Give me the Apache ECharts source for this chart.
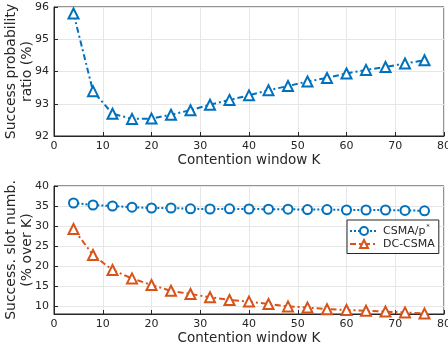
<!DOCTYPE html>
<html>
<head>
<meta charset="utf-8">
<script src="https://cdn.jsdelivr.net/npm/echarts@6/dist/echarts.min.js"></script>
<style>
  html, body { margin: 0; padding: 0; background: #fff; }
</style>
</head>
<body>
<div id="Charts" style="width: 448px;height: 351px;"></div>
<script>
// contention window K
const kValues = [4, 8, 12, 16, 20, 24, 28, 32, 36, 40, 44, 48, 52, 56, 60, 64, 68, 72, 76]
// top panel: success probability ratio (%)
const ratioValues = [95.8, 93.39, 92.69, 92.53, 92.54, 92.66, 92.8, 92.97, 93.12, 93.26, 93.42, 93.55, 93.69, 93.8, 93.94, 94.05, 94.14, 94.25, 94.35]
// bottom panel: successful slot number (% over K)
const csmaValues = [35.75, 35.25, 35.0, 34.7, 34.5, 34.5, 34.3, 34.25, 34.3, 34.25, 34.2, 34.2, 34.1, 34.1, 34.0, 34.0, 34.0, 33.9, 33.8]
const dcValues = [29.25, 22.75, 19.0, 16.9, 15.25, 13.8, 13.0, 12.2, 11.5, 11.1, 10.5, 9.9, 9.6, 9.2, 9.0, 8.8, 8.6, 8.4, 8.1]
const bottomTicks = [10, 15, 20, 25, 30, 35, 40]

const BLUE = '#0072BD'
const ORANGE = '#D95319'
const FONT = 'DejaVu Sans'

function pairs(ys) {
  return kValues.map((k, i) => [k, ys[i]])
}

function xAxisOf(gridIndex) {
  return {
    gridIndex: gridIndex,
    type: 'value',
    min: 0,
    max: 80,
    interval: 10,
    name: 'Contention window K',
    nameLocation: 'middle',
    nameGap: 17,
    nameMoveOverlap: false,
    nameTextStyle: { fontFamily: FONT, fontSize: 13.5, color: '#262626' },
    axisLine: { show: true, lineStyle: { color: '#262626', width: 1 } },
    axisTick: { show: true, inside: true, length: 4, lineStyle: { color: '#262626' } },
    axisLabel: { fontFamily: FONT, fontSize: 11, color: '#262626', margin: 5 },
    splitLine: { show: true, lineStyle: { color: '#e6e6e6', width: 1 } }
  }
}

function yAxisOf(gridIndex, name) {
  return {
    gridIndex: gridIndex,
    type: 'value',
    name: name,
    nameLocation: 'middle',
    nameGap: 19,
    nameMoveOverlap: false,
    nameTextStyle: { fontFamily: FONT, fontSize: 14, color: '#262626', lineHeight: 16 },
    axisLine: { show: true, lineStyle: { color: '#262626' } },
    axisTick: { show: true, inside: true, length: 4, lineStyle: { color: '#262626' } },
    axisLabel: { fontFamily: FONT, fontSize: 11, color: '#262626', margin: 5 },
    splitLine: { show: true, lineStyle: { color: '#e6e6e6' } }
  }
}

let topY = yAxisOf(0, 'Success probability\nratio (%)')
topY.min = 92
topY.max = 96
topY.interval = 1

let bottomY = yAxisOf(1, 'Success. slot numb.\n(% over K)')
bottomY.min = 8
bottomY.max = 40
bottomY.axisTick.customValues = bottomTicks
bottomY.axisLabel.customValues = bottomTicks

let chart = echarts.init(document.getElementById('Charts'))
let option = {
  animation: false,
  backgroundColor: '#fff',
  grid: [
    { left: 54, right: 4, top: 7, height: 129, show: true, borderColor: '#262626', borderWidth: 1, containLabel: false, outerBoundsMode: 'none' },
    { left: 54, right: 4, top: 186, height: 128, show: true, borderColor: '#262626', borderWidth: 1, containLabel: false, outerBoundsMode: 'none' }
  ],
  xAxis: [xAxisOf(0), xAxisOf(1)],
  yAxis: [topY, bottomY],
  legend: {
    orient: 'vertical',
    left: 347,
    top: 220,
    padding: [4, 4, 4, 2],
    itemGap: 2,
    itemWidth: 28,
    itemHeight: 10,
    backgroundColor: '#fff',
    borderColor: '#262626',
    borderWidth: 1,
    borderRadius: 0,
    data: ['CSMA/p*', 'DC-CSMA'],
    formatter: function (name) {
      if (name === 'CSMA/p*') return 'CSMA/p{sup|*}'
      return name
    },
    textStyle: {
      fontFamily: FONT,
      fontSize: 11,
      color: '#262626',
      rich: {
        sup: { fontSize: 7, verticalAlign: 'top', padding: [0, 0, 7, 1], fontFamily: FONT, color: '#262626' }
      }
    }
  },
  series: [
    {
      name: 'ratio',
      type: 'line',
      xAxisIndex: 0,
      yAxisIndex: 0,
      data: pairs(ratioValues),
      symbol: 'triangle',
      symbolSize: 10,
      lineStyle: { color: BLUE, width: 2, type: [6, 3, 2, 3] },
      itemStyle: { color: '#fff', borderColor: BLUE, borderWidth: 2 }
    },
    {
      name: 'CSMA/p*',
      type: 'line',
      xAxisIndex: 1,
      yAxisIndex: 1,
      data: pairs(csmaValues),
      symbol: 'circle',
      symbolSize: 9,
      lineStyle: { color: BLUE, width: 2, type: [2, 2] },
      itemStyle: { color: '#fff', borderColor: BLUE, borderWidth: 2 }
    },
    {
      name: 'DC-CSMA',
      type: 'line',
      xAxisIndex: 1,
      yAxisIndex: 1,
      data: pairs(dcValues),
      symbol: 'triangle',
      symbolSize: 10,
      lineStyle: { color: ORANGE, width: 2, type: [6, 3, 2, 3] },
      itemStyle: { color: '#fff', borderColor: ORANGE, borderWidth: 2 }
    }
  ]
}
chart.setOption(option)
</script>
</body>
</html>
